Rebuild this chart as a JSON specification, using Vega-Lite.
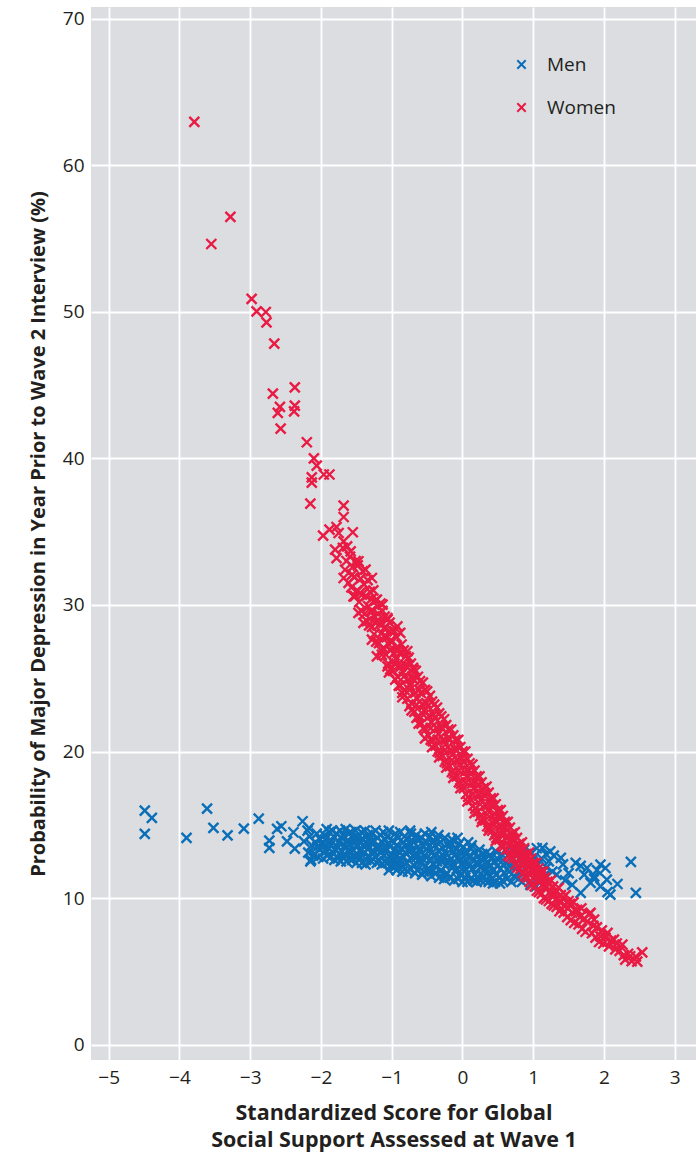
{
  "$schema": "https://vega.github.io/schema/vega-lite/v6.json",
  "width": 605,
  "height": 1053,
  "autosize": {"type": "none"},
  "padding": {"left": 91, "top": 7, "right": 4, "bottom": 93},
  "background": "white",
  "config": {
    "view": {"fill": "#dcdde0", "stroke": null},
    "font": "Open Sans",
    "axis": {
      "grid": true,
      "gridColor": "#ffffff",
      "gridWidth": 1.8,
      "domain": false,
      "ticks": false,
      "labelFontSize": 19,
      "labelColor": "#231f20",
      "titleColor": "#231f20",
      "titleFontWeight": "bold"
    },
    "legend": {
      "orient": "none",
      "legendX": 421,
      "legendY": 48,
      "title": null,
      "padding": 0,
      "labelFontSize": 19,
      "labelColor": "#231f20",
      "symbolType": "M-1,-1L1,1M-1,1L1,-1",
      "symbolSize": 70,
      "symbolStrokeWidth": 2,
      "labelOffset": 16,
      "rowPadding": 23
    }
  },
  "datasets": {
    "men": [
      {"x":-4.49,"y":15.97},{"x":-4.39,"y":15.47},{"x":-4.49,"y":14.38},{"x":-3.90,"y":14.10},{"x":-3.61,"y":16.10},{"x":-3.52,"y":14.79},{"x":-3.32,"y":14.28},{"x":-3.09,"y":14.74},{"x":-2.88,"y":15.42},{"x":-2.73,"y":13.92},{"x":-2.73,"y":13.42},{"x":-2.62,"y":14.72},{"x":-2.56,"y":14.90},{"x":-2.48,"y":13.87},{"x":-2.39,"y":14.49},{"x":-2.37,"y":13.37},{"x":-2.26,"y":15.24},{"x":-2.24,"y":13.87},{"x":-2.17,"y":14.78},{"x":-2.15,"y":12.50},
      {"x":-2.18,"y":13.1},{"x":-2.16,"y":14.2},{"x":-2.13,"y":13.6},{"x":-2.11,"y":12.9},{"x":-2.19,"y":14.6},{"x":-2.14,"y":12.6},
      {"x":-2.08,"y":13.8},{"x":-2.06,"y":14.4},{"x":-2.04,"y":12.8},{"x":-2.02,"y":13.3},{"x":-2.09,"y":13.0},{"x":-2.01,"y":14.0},{"x":-2.05,"y":13.5},
      {"x":-1.98,"y":13.7},{"x":-1.97,"y":12.7},{"x":-1.95,"y":14.3},{"x":-1.93,"y":13.2},{"x":-1.92,"y":14.7},{"x":-1.91,"y":12.9},{"x":-1.96,"y":13.5},{"x":-1.94,"y":14.0},
      {"x":-1.89,"y":13.4},{"x":-1.88,"y":14.5},{"x":-1.86,"y":12.8},{"x":-1.85,"y":13.9},{"x":-1.83,"y":13.1},{"x":-1.82,"y":14.2},{"x":-1.81,"y":12.6},{"x":-1.87,"y":13.6},{"x":-1.84,"y":14.6},
      {"x":-1.79,"y":13.3},{"x":-1.78,"y":14.4},{"x":-1.76,"y":12.7},{"x":-1.75,"y":13.8},{"x":-1.74,"y":13.0},{"x":-1.73,"y":14.6},{"x":-1.72,"y":12.5},{"x":-1.71,"y":14.1},{"x":-1.77,"y":13.5},{"x":-1.70,"y":13.2},
      {"x":-1.69,"y":14.3},{"x":-1.68,"y":12.8},{"x":-1.66,"y":13.6},{"x":-1.65,"y":14.7},{"x":-1.64,"y":12.5},{"x":-1.63,"y":13.9},{"x":-1.62,"y":13.2},{"x":-1.61,"y":14.4},{"x":-1.67,"y":13.0},{"x":-1.60,"y":12.7},
      {"x":-1.59,"y":13.7},{"x":-1.58,"y":14.5},{"x":-1.56,"y":12.6},{"x":-1.55,"y":13.3},{"x":-1.54,"y":14.1},{"x":-1.53,"y":12.9},{"x":-1.52,"y":13.8},{"x":-1.51,"y":14.6},{"x":-1.57,"y":13.1},{"x":-1.50,"y":12.4},
      {"x":-1.49,"y":13.5},{"x":-1.48,"y":14.2},{"x":-1.46,"y":12.7},{"x":-1.45,"y":13.9},{"x":-1.44,"y":13.2},{"x":-1.43,"y":14.5},{"x":-1.42,"y":12.4},{"x":-1.41,"y":13.6},{"x":-1.47,"y":12.9},{"x":-1.40,"y":14.0},
      {"x":-1.39,"y":13.1},{"x":-1.38,"y":14.6},{"x":-1.36,"y":12.6},{"x":-1.35,"y":13.7},{"x":-1.34,"y":14.3},{"x":-1.33,"y":12.9},{"x":-1.32,"y":13.4},{"x":-1.31,"y":14.0},{"x":-1.37,"y":12.3},{"x":-1.30,"y":13.8},
      {"x":-1.29,"y":12.5},{"x":-1.28,"y":14.4},{"x":-1.26,"y":13.2},{"x":-1.25,"y":13.9},{"x":-1.24,"y":12.8},{"x":-1.23,"y":14.6},{"x":-1.22,"y":13.5},{"x":-1.21,"y":12.4},{"x":-1.27,"y":13.0},{"x":-1.20,"y":14.1},
      {"x":-1.19,"y":13.6},{"x":-1.18,"y":12.6},{"x":-1.16,"y":14.3},{"x":-1.15,"y":13.1},{"x":-1.14,"y":12.3},{"x":-1.13,"y":13.8},{"x":-1.12,"y":14.5},{"x":-1.11,"y":12.9},{"x":-1.17,"y":13.4},{"x":-1.10,"y":12.5},
      {"x":-1.09,"y":14.0},{"x":-1.08,"y":13.3},{"x":-1.06,"y":12.4},{"x":-1.05,"y":13.7},{"x":-1.04,"y":14.6},{"x":-1.03,"y":12.8},{"x":-1.02,"y":13.5},{"x":-1.01,"y":12.2},{"x":-1.07,"y":14.2},{"x":-1.00,"y":13.0},{"x":-1.04,"y":11.9},
      {"x":-0.99,"y":13.9},{"x":-0.98,"y":12.5},{"x":-0.96,"y":13.3},{"x":-0.95,"y":14.4},{"x":-0.94,"y":12.2},{"x":-0.93,"y":13.6},{"x":-0.92,"y":12.9},{"x":-0.91,"y":14.1},{"x":-0.97,"y":12.7},{"x":-0.90,"y":13.2},{"x":-0.93,"y":11.9},
      {"x":-0.89,"y":12.6},{"x":-0.88,"y":14.5},{"x":-0.86,"y":13.4},{"x":-0.85,"y":12.1},{"x":-0.84,"y":13.8},{"x":-0.83,"y":12.8},{"x":-0.82,"y":14.2},{"x":-0.81,"y":13.1},{"x":-0.87,"y":12.3},{"x":-0.80,"y":13.6},{"x":-0.85,"y":11.8},
      {"x":-0.79,"y":12.4},{"x":-0.78,"y":14.0},{"x":-0.76,"y":13.2},{"x":-0.75,"y":12.0},{"x":-0.74,"y":13.7},{"x":-0.73,"y":14.4},{"x":-0.72,"y":12.7},{"x":-0.71,"y":13.3},{"x":-0.77,"y":11.8},{"x":-0.70,"y":12.9},{"x":-0.74,"y":14.6},
      {"x":-0.69,"y":13.8},{"x":-0.68,"y":12.2},{"x":-0.66,"y":13.0},{"x":-0.65,"y":14.3},{"x":-0.64,"y":11.9},{"x":-0.63,"y":13.5},{"x":-0.62,"y":12.6},{"x":-0.61,"y":14.0},{"x":-0.67,"y":11.7},{"x":-0.60,"y":13.2},{"x":-0.65,"y":12.8},
      {"x":-0.59,"y":12.4},{"x":-0.58,"y":14.1},{"x":-0.56,"y":13.6},{"x":-0.55,"y":11.8},{"x":-0.54,"y":12.9},{"x":-0.53,"y":14.4},{"x":-0.52,"y":12.2},{"x":-0.51,"y":13.3},{"x":-0.57,"y":11.6},{"x":-0.50,"y":13.8},{"x":-0.55,"y":12.6},
      {"x":-0.49,"y":12.0},{"x":-0.48,"y":13.5},{"x":-0.46,"y":14.2},{"x":-0.45,"y":12.7},{"x":-0.44,"y":11.5},{"x":-0.43,"y":13.1},{"x":-0.42,"y":13.9},{"x":-0.41,"y":12.3},{"x":-0.47,"y":11.8},{"x":-0.40,"y":12.9},{"x":-0.44,"y":14.5},
      {"x":-0.39,"y":13.6},{"x":-0.38,"y":11.7},{"x":-0.36,"y":12.5},{"x":-0.35,"y":14.0},{"x":-0.34,"y":13.2},{"x":-0.33,"y":11.4},{"x":-0.32,"y":12.8},{"x":-0.31,"y":13.8},{"x":-0.37,"y":12.1},{"x":-0.30,"y":11.9},{"x":-0.34,"y":14.3},
      {"x":-0.29,"y":12.6},{"x":-0.28,"y":13.4},{"x":-0.26,"y":11.3},{"x":-0.25,"y":14.1},{"x":-0.24,"y":12.2},{"x":-0.23,"y":13.0},{"x":-0.22,"y":11.7},{"x":-0.21,"y":13.7},{"x":-0.27,"y":12.9},{"x":-0.20,"y":12.4},{"x":-0.25,"y":11.5},
      {"x":-0.19,"y":13.5},{"x":-0.18,"y":11.4},{"x":-0.16,"y":12.7},{"x":-0.15,"y":14.0},{"x":-0.14,"y":12.1},{"x":-0.13,"y":13.2},{"x":-0.12,"y":11.2},{"x":-0.11,"y":12.9},{"x":-0.17,"y":13.8},{"x":-0.10,"y":11.8},{"x":-0.14,"y":12.4},
      {"x":-0.09,"y":13.3},{"x":-0.08,"y":12.0},{"x":-0.06,"y":11.3},{"x":-0.05,"y":13.7},{"x":-0.04,"y":12.6},{"x":-0.03,"y":11.6},{"x":-0.02,"y":13.1},{"x":-0.01,"y":12.3},{"x":-0.07,"y":14.1},{"x":0.00,"y":11.1},{"x":-0.05,"y":12.8},
      {"x":0.01,"y":13.5},{"x":0.02,"y":12.1},{"x":0.04,"y":11.4},{"x":0.05,"y":13.0},{"x":0.06,"y":12.5},{"x":0.07,"y":11.1},{"x":0.08,"y":13.8},{"x":0.09,"y":12.2},{"x":0.03,"y":11.8},{"x":0.10,"y":12.9},
      {"x":0.11,"y":11.3},{"x":0.12,"y":13.4},{"x":0.14,"y":12.0},{"x":0.15,"y":12.7},{"x":0.16,"y":11.2},{"x":0.17,"y":13.1},{"x":0.18,"y":11.6},{"x":0.19,"y":12.4},{"x":0.13,"y":13.6},{"x":0.20,"y":11.1},
      {"x":0.21,"y":12.8},{"x":0.22,"y":11.4},{"x":0.24,"y":13.3},{"x":0.25,"y":12.1},{"x":0.26,"y":11.2},{"x":0.27,"y":12.6},{"x":0.28,"y":13.0},{"x":0.29,"y":11.5},{"x":0.23,"y":12.3},{"x":0.30,"y":11.9},
      {"x":0.31,"y":12.7},{"x":0.32,"y":11.2},{"x":0.34,"y":13.1},{"x":0.35,"y":11.7},{"x":0.36,"y":12.4},{"x":0.37,"y":11.1},{"x":0.38,"y":12.9},{"x":0.39,"y":11.5},{"x":0.33,"y":12.0},{"x":0.40,"y":12.2},
      {"x":0.41,"y":11.3},{"x":0.42,"y":12.8},{"x":0.44,"y":11.9},{"x":0.45,"y":12.5},{"x":0.46,"y":11.1},{"x":0.47,"y":13.2},{"x":0.48,"y":11.6},{"x":0.49,"y":12.2},{"x":0.43,"y":11.0},
      {"x":0.51,"y":12.6},{"x":0.52,"y":11.4},{"x":0.54,"y":12.0},{"x":0.55,"y":13.0},{"x":0.56,"y":11.2},{"x":0.58,"y":12.3},{"x":0.59,"y":11.7},{"x":0.53,"y":11.0},
      {"x":0.61,"y":12.4},{"x":0.63,"y":11.3},{"x":0.64,"y":12.9},{"x":0.66,"y":11.8},{"x":0.67,"y":12.2},{"x":0.69,"y":11.1},{"x":0.62,"y":13.2},
      {"x":0.71,"y":12.6},{"x":0.73,"y":11.5},{"x":0.75,"y":12.0},{"x":0.77,"y":13.0},{"x":0.79,"y":11.3},{"x":0.74,"y":12.4},
      {"x":0.81,"y":12.7},{"x":0.83,"y":11.8},{"x":0.85,"y":12.3},{"x":0.87,"y":13.3},{"x":0.89,"y":11.4},{"x":0.84,"y":11.1},
      {"x":0.91,"y":12.9},{"x":0.93,"y":12.2},{"x":0.95,"y":11.6},{"x":0.97,"y":13.1},{"x":0.99,"y":12.5},{"x":0.96,"y":10.9},
      {"x":1.01,"y":12.8},{"x":1.03,"y":11.9},{"x":1.05,"y":13.4},{"x":1.07,"y":12.3},{"x":1.09,"y":11.2},{"x":1.04,"y":10.8},
      {"x":1.12,"y":12.7},{"x":1.15,"y":11.5},{"x":1.18,"y":13.0},{"x":1.13,"y":13.42},{"x":1.19,"y":12.1},
      {"x":1.22,"y":12.5},{"x":1.24,"y":13.19},{"x":1.27,"y":11.8},{"x":1.29,"y":12.9},
      {"x":1.39,"y":12.74},{"x":1.50,"y":11.7},{"x":1.60,"y":12.4},{"x":1.67,"y":10.35},{"x":1.67,"y":12.2},{"x":1.76,"y":12.05},{"x":1.81,"y":11.03},{"x":1.86,"y":11.48},{"x":1.86,"y":11.3},{"x":1.95,"y":12.28},{"x":1.95,"y":10.8},{"x":2.02,"y":12.05},{"x":2.04,"y":11.26},{"x":2.05,"y":10.4},{"x":2.09,"y":10.23},{"x":2.19,"y":10.96},{"x":2.38,"y":12.47},{"x":2.45,"y":10.35},{"x":1.45,"y":11.2},{"x":1.55,"y":10.9},{"x":1.33,"y":11.6},{"x":1.72,"y":11.6},{"x":1.42,"y":12.3},{"x":1.90,"y":11.9}
    ],
    "women": [
      {"x":-3.79,"y":62.96},{"x":-3.28,"y":56.48},{"x":-3.55,"y":54.63},{"x":-2.98,"y":50.88},{"x":-2.91,"y":50.03},{"x":-2.78,"y":49.99},{"x":-2.77,"y":49.28},{"x":-2.66,"y":47.83},{"x":-2.68,"y":44.42},{"x":-2.37,"y":44.85},{"x":-2.58,"y":43.51},{"x":-2.61,"y":43.10},{"x":-2.37,"y":43.60},{"x":-2.38,"y":43.21},{"x":-2.57,"y":42.03},{"x":-2.20,"y":41.10},
      {"x":-2.10,"y":40.0},{"x":-2.06,"y":39.5},{"x":-2.13,"y":38.7},{"x":-2.13,"y":38.35},{"x":-1.96,"y":38.9},{"x":-1.88,"y":38.9},
      {"x":-2.15,"y":36.91},{"x":-1.68,"y":36.78},{"x":-1.68,"y":36.0},{"x":-1.97,"y":34.73},{"x":-1.88,"y":35.14},{"x":-1.78,"y":35.32},{"x":-1.75,"y":34.91},{"x":-1.55,"y":34.96},{"x":-1.68,"y":34.34},{"x":-1.80,"y":33.77},{"x":-1.78,"y":33.2},{"x":-1.58,"y":33.66},{"x":-1.47,"y":32.98},{"x":-1.68,"y":31.84},{"x":-1.56,"y":32.07},{"x":-1.37,"y":32.41},{"x":-1.28,"y":31.84},{"x":-1.54,"y":30.59},{"x":-1.42,"y":30.7},{"x":-1.21,"y":30.36},{"x":-1.13,"y":30.02},{"x":-1.47,"y":29.46},{"x":-1.30,"y":29.57},{"x":-1.40,"y":28.77},{"x":-1.23,"y":28.77},{"x":-1.06,"y":29.0},{"x":-0.92,"y":28.54},{"x":-1.28,"y":27.63},{"x":-1.11,"y":27.86},{"x":-0.88,"y":28.09},{"x":-1.21,"y":26.49},{"x":-1.02,"y":26.95},{"x":-0.78,"y":26.84},{"x":-1.06,"y":25.81},{"x":-0.88,"y":25.81},{"x":-0.69,"y":25.59},
      {"x":-1.69,"y":33.9},{"x":-1.66,"y":32.4},{"x":-1.63,"y":34.0},{"x":-1.61,"y":31.5},{"x":-1.64,"y":33.0},
      {"x":-1.59,"y":33.3},{"x":-1.57,"y":31.2},{"x":-1.55,"y":32.6},{"x":-1.52,"y":30.6},{"x":-1.51,"y":33.0},{"x":-1.53,"y":31.9},
      {"x":-1.49,"y":31.0},{"x":-1.48,"y":32.7},{"x":-1.46,"y":30.2},{"x":-1.44,"y":31.8},{"x":-1.43,"y":29.6},{"x":-1.41,"y":32.3},{"x":-1.45,"y":30.8},
      {"x":-1.39,"y":31.4},{"x":-1.38,"y":29.4},{"x":-1.36,"y":30.6},{"x":-1.35,"y":28.9},{"x":-1.34,"y":31.7},{"x":-1.33,"y":29.9},{"x":-1.31,"y":30.9},{"x":-1.32,"y":28.6},
      {"x":-1.29,"y":30.4},{"x":-1.28,"y":28.5},{"x":-1.27,"y":29.6},{"x":-1.26,"y":31.0},{"x":-1.25,"y":28.0},{"x":-1.24,"y":29.2},{"x":-1.23,"y":30.3},{"x":-1.22,"y":27.5},{"x":-1.21,"y":28.9},{"x":-1.20,"y":29.9},
      {"x":-1.19,"y":29.4},{"x":-1.18,"y":27.4},{"x":-1.17,"y":28.7},{"x":-1.16,"y":30.1},{"x":-1.15,"y":26.9},{"x":-1.14,"y":28.1},{"x":-1.13,"y":29.6},{"x":-1.12,"y":27.0},{"x":-1.11,"y":28.4},{"x":-1.10,"y":29.2},{"x":-1.14,"y":26.6},
      {"x":-1.09,"y":28.5},{"x":-1.08,"y":26.6},{"x":-1.07,"y":27.8},{"x":-1.06,"y":29.1},{"x":-1.05,"y":26.0},{"x":-1.04,"y":27.3},{"x":-1.03,"y":28.8},{"x":-1.02,"y":25.6},{"x":-1.01,"y":27.6},{"x":-1.00,"y":28.3},{"x":-1.04,"y":25.4},{"x":-1.02,"y":26.9},
      {"x":-0.99,"y":27.5},{"x":-0.98,"y":25.5},{"x":-0.97,"y":26.7},{"x":-0.96,"y":28.2},{"x":-0.95,"y":24.9},{"x":-0.94,"y":26.3},{"x":-0.93,"y":27.8},{"x":-0.92,"y":25.1},{"x":-0.91,"y":26.9},{"x":-0.90,"y":24.5},{"x":-0.96,"y":26.0},{"x":-0.93,"y":27.1},
      {"x":-0.89,"y":26.7},{"x":-0.88,"y":24.5},{"x":-0.87,"y":25.8},{"x":-0.86,"y":27.3},{"x":-0.85,"y":24.0},{"x":-0.84,"y":25.4},{"x":-0.83,"y":26.9},{"x":-0.82,"y":24.2},{"x":-0.81,"y":25.9},{"x":-0.80,"y":26.5},{"x":-0.85,"y":23.7},{"x":-0.83,"y":25.1},
      {"x":-0.79,"y":25.8},{"x":-0.78,"y":23.6},{"x":-0.77,"y":24.9},{"x":-0.76,"y":26.4},{"x":-0.75,"y":23.1},{"x":-0.74,"y":24.5},{"x":-0.73,"y":26.0},{"x":-0.72,"y":23.3},{"x":-0.71,"y":25.0},{"x":-0.70,"y":25.7},{"x":-0.75,"y":24.2},{"x":-0.72,"y":22.8},
      {"x":-0.69,"y":24.9},{"x":-0.68,"y":22.7},{"x":-0.67,"y":24.0},{"x":-0.66,"y":25.5},{"x":-0.65,"y":22.3},{"x":-0.64,"y":23.6},{"x":-0.63,"y":25.1},{"x":-0.62,"y":22.4},{"x":-0.61,"y":24.2},{"x":-0.60,"y":24.8},{"x":-0.65,"y":23.2},{"x":-0.62,"y":21.9},
      {"x":-0.59,"y":24.0},{"x":-0.58,"y":21.9},{"x":-0.57,"y":23.2},{"x":-0.56,"y":24.7},{"x":-0.55,"y":21.6},{"x":-0.54,"y":22.8},{"x":-0.53,"y":24.2},{"x":-0.52,"y":21.5},{"x":-0.51,"y":23.3},{"x":-0.50,"y":24.1},{"x":-0.55,"y":22.5},{"x":-0.53,"y":20.9},
      {"x":-0.49,"y":23.1},{"x":-0.48,"y":21.1},{"x":-0.47,"y":22.4},{"x":-0.46,"y":23.8},{"x":-0.45,"y":20.8},{"x":-0.44,"y":22.0},{"x":-0.43,"y":23.4},{"x":-0.42,"y":20.7},{"x":-0.41,"y":22.5},{"x":-0.40,"y":23.2},{"x":-0.45,"y":21.6},{"x":-0.43,"y":20.3},
      {"x":-0.39,"y":22.3},{"x":-0.38,"y":20.4},{"x":-0.37,"y":21.6},{"x":-0.36,"y":23.0},{"x":-0.35,"y":20.0},{"x":-0.34,"y":21.2},{"x":-0.33,"y":22.6},{"x":-0.32,"y":19.9},{"x":-0.31,"y":21.7},{"x":-0.30,"y":22.4},{"x":-0.35,"y":20.8},{"x":-0.33,"y":19.6},
      {"x":-0.29,"y":21.6},{"x":-0.28,"y":19.7},{"x":-0.27,"y":20.8},{"x":-0.26,"y":22.2},{"x":-0.25,"y":19.3},{"x":-0.24,"y":20.5},{"x":-0.23,"y":21.8},{"x":-0.22,"y":19.2},{"x":-0.21,"y":20.9},{"x":-0.20,"y":21.5},{"x":-0.25,"y":20.1},{"x":-0.23,"y":18.9},
      {"x":-0.19,"y":20.9},{"x":-0.18,"y":19.0},{"x":-0.17,"y":20.1},{"x":-0.16,"y":21.5},{"x":-0.15,"y":18.6},{"x":-0.14,"y":19.8},{"x":-0.13,"y":21.1},{"x":-0.12,"y":18.5},{"x":-0.11,"y":20.2},{"x":-0.10,"y":20.8},{"x":-0.15,"y":19.4},{"x":-0.13,"y":18.2},
      {"x":-0.09,"y":20.1},{"x":-0.08,"y":18.3},{"x":-0.07,"y":19.4},{"x":-0.06,"y":20.8},{"x":-0.05,"y":17.9},{"x":-0.04,"y":19.1},{"x":-0.03,"y":20.3},{"x":-0.02,"y":17.8},{"x":-0.01,"y":19.5},{"x":0.00,"y":20.0},{"x":-0.05,"y":18.7},{"x":-0.03,"y":17.5},
      {"x":0.01,"y":19.3},{"x":0.02,"y":17.5},{"x":0.03,"y":18.6},{"x":0.04,"y":20.0},{"x":0.05,"y":17.1},{"x":0.06,"y":18.3},{"x":0.07,"y":19.5},{"x":0.08,"y":16.9},{"x":0.09,"y":18.7},{"x":0.10,"y":19.2},{"x":0.05,"y":17.9},{"x":0.07,"y":16.6},
      {"x":0.11,"y":18.5},{"x":0.12,"y":16.7},{"x":0.13,"y":17.8},{"x":0.14,"y":19.1},{"x":0.15,"y":16.3},{"x":0.16,"y":17.5},{"x":0.17,"y":18.7},{"x":0.18,"y":16.1},{"x":0.19,"y":17.9},{"x":0.20,"y":18.3},{"x":0.15,"y":17.1},{"x":0.17,"y":15.8},
      {"x":0.21,"y":17.7},{"x":0.22,"y":15.9},{"x":0.23,"y":17.0},{"x":0.24,"y":18.3},{"x":0.25,"y":15.6},{"x":0.26,"y":16.7},{"x":0.27,"y":17.9},{"x":0.28,"y":15.4},{"x":0.29,"y":17.1},{"x":0.30,"y":17.5},{"x":0.25,"y":16.4},{"x":0.27,"y":15.2},
      {"x":0.31,"y":17.0},{"x":0.32,"y":15.3},{"x":0.33,"y":16.3},{"x":0.34,"y":17.6},{"x":0.35,"y":14.9},{"x":0.36,"y":16.0},{"x":0.37,"y":17.2},{"x":0.38,"y":14.8},{"x":0.39,"y":16.4},{"x":0.40,"y":16.8},{"x":0.35,"y":15.7},{"x":0.37,"y":14.6},
      {"x":0.41,"y":16.3},{"x":0.42,"y":14.6},{"x":0.43,"y":15.6},{"x":0.44,"y":16.8},{"x":0.45,"y":14.3},{"x":0.46,"y":15.3},{"x":0.47,"y":16.4},{"x":0.48,"y":14.1},{"x":0.49,"y":15.6},{"x":0.50,"y":16.0},{"x":0.45,"y":15.0},{"x":0.47,"y":13.9},
      {"x":0.51,"y":15.5},{"x":0.52,"y":14.0},{"x":0.53,"y":14.9},{"x":0.54,"y":16.0},{"x":0.55,"y":13.6},{"x":0.56,"y":14.6},{"x":0.57,"y":15.6},{"x":0.58,"y":13.5},{"x":0.59,"y":14.8},{"x":0.60,"y":15.2},{"x":0.55,"y":14.3},
      {"x":0.61,"y":14.8},{"x":0.62,"y":13.3},{"x":0.63,"y":14.2},{"x":0.64,"y":15.2},{"x":0.65,"y":12.9},{"x":0.66,"y":13.9},{"x":0.67,"y":14.8},{"x":0.68,"y":12.8},{"x":0.69,"y":14.0},{"x":0.70,"y":14.4},{"x":0.65,"y":13.6},
      {"x":0.71,"y":14.1},{"x":0.72,"y":12.7},{"x":0.73,"y":13.5},{"x":0.74,"y":14.5},{"x":0.75,"y":12.3},{"x":0.76,"y":13.2},{"x":0.77,"y":14.1},{"x":0.78,"y":12.1},{"x":0.79,"y":13.3},{"x":0.80,"y":13.7},{"x":0.75,"y":12.9},
      {"x":0.81,"y":13.4},{"x":0.82,"y":12.0},{"x":0.83,"y":12.8},{"x":0.84,"y":13.8},{"x":0.85,"y":11.7},{"x":0.86,"y":12.5},{"x":0.87,"y":13.4},{"x":0.88,"y":11.5},{"x":0.89,"y":12.7},{"x":0.90,"y":13.0},{"x":0.85,"y":12.2},
      {"x":0.91,"y":12.8},{"x":0.92,"y":11.4},{"x":0.93,"y":12.2},{"x":0.94,"y":13.1},{"x":0.95,"y":11.1},{"x":0.96,"y":11.9},{"x":0.97,"y":12.7},{"x":0.98,"y":10.9},{"x":0.99,"y":12.0},{"x":1.00,"y":12.4},{"x":0.95,"y":11.6},
      {"x":1.01,"y":12.1},{"x":1.02,"y":10.8},{"x":1.03,"y":11.5},{"x":1.04,"y":12.4},{"x":1.05,"y":10.5},{"x":1.06,"y":11.2},{"x":1.07,"y":12.0},{"x":1.08,"y":10.4},{"x":1.09,"y":11.4},{"x":1.10,"y":11.8},
      {"x":1.11,"y":11.5},{"x":1.12,"y":10.3},{"x":1.13,"y":10.9},{"x":1.14,"y":11.8},{"x":1.15,"y":10.0},{"x":1.16,"y":10.7},{"x":1.17,"y":11.4},{"x":1.18,"y":9.9},{"x":1.19,"y":10.8},{"x":1.20,"y":11.1},
      {"x":1.21,"y":11.0},{"x":1.22,"y":9.8},{"x":1.24,"y":10.4},{"x":1.25,"y":11.2},{"x":1.26,"y":9.6},{"x":1.27,"y":10.1},{"x":1.28,"y":10.8},{"x":1.29,"y":9.5},{"x":1.30,"y":10.3},
      {"x":1.31,"y":10.5},{"x":1.33,"y":9.4},{"x":1.34,"y":10.0},{"x":1.36,"y":10.7},{"x":1.37,"y":9.1},{"x":1.38,"y":9.7},{"x":1.39,"y":10.2},{"x":1.40,"y":9.3},
      {"x":1.41,"y":10.0},{"x":1.43,"y":9.0},{"x":1.45,"y":9.5},{"x":1.46,"y":10.2},{"x":1.48,"y":8.7},{"x":1.49,"y":9.3},{"x":1.50,"y":9.8},
      {"x":1.52,"y":9.6},{"x":1.53,"y":8.5},{"x":1.55,"y":9.0},{"x":1.57,"y":9.7},{"x":1.58,"y":8.3},{"x":1.60,"y":9.1},
      {"x":1.62,"y":9.2},{"x":1.64,"y":8.2},{"x":1.66,"y":8.7},{"x":1.68,"y":9.3},{"x":1.69,"y":7.9},
      {"x":1.72,"y":8.6},{"x":1.74,"y":7.7},{"x":1.76,"y":8.4},{"x":1.79,"y":8.9},{"x":1.81,"y":8.99},{"x":1.86,"y":8.53},
      {"x":1.83,"y":7.6},{"x":1.85,"y":8.1},{"x":1.88,"y":7.3},{"x":1.90,"y":8.0},
      {"x":1.93,"y":7.0},{"x":1.95,"y":7.39},{"x":1.97,"y":7.8},{"x":1.99,"y":6.9},
      {"x":2.02,"y":7.3},{"x":2.05,"y":7.62},{"x":2.07,"y":6.7},{"x":2.10,"y":7.1},
      {"x":2.14,"y":7.16},{"x":2.16,"y":6.5},{"x":2.18,"y":6.9},
      {"x":2.22,"y":6.4},{"x":2.26,"y":6.82},{"x":2.28,"y":6.1},{"x":2.30,"y":5.8},
      {"x":2.34,"y":6.2},{"x":2.37,"y":6.03},{"x":2.39,"y":5.7},
      {"x":2.45,"y":6.0},{"x":2.47,"y":5.66},{"x":2.54,"y":6.3}
    ]
  },
  "layer": [
    {
      "data": {"name": "men"},
      "mark": {"type": "point", "shape": "M-1,-1L1,1M-1,1L1,-1", "filled": false, "opacity": 1, "strokeWidth": 2.4, "size": 100},
      "encoding": {
        "x": {
          "field": "x", "type": "quantitative",
          "scale": {"domain": [-5.25, 3.3], "nice": false, "zero": false},
          "axis": {
            "values": [-5, -4, -3, -2, -1, 0, 1, 2, 3],
            "format": "d",
            "labelPadding": 8,
            "title": ["Standardized Score for Global", "Social Support Assessed at Wave 1"],
            "titleFontSize": 21.5,
            "titlePadding": 15,
            "titleLineHeight": 27
          }
        },
        "y": {
          "field": "y", "type": "quantitative",
          "scale": {"domain": [-1.05, 70.8], "nice": false, "zero": false},
          "axis": {
            "values": [0, 10, 20, 30, 40, 50, 60, 70],
            "format": "d",
            "labelPadding": 7,
            "title": "Probability of Major Depression in Year Prior to Wave 2 Interview (%)",
            "titleFontSize": 20,
            "titlePadding": 14
          }
        },
        "color": {
          "datum": "Men",
          "type": "nominal",
          "scale": {"domain": ["Men", "Women"], "range": ["#0a6fb8", "#e91a43"]}
        }
      }
    },
    {
      "data": {"name": "women"},
      "mark": {"type": "point", "shape": "M-1,-1L1,1M-1,1L1,-1", "filled": false, "opacity": 1, "strokeWidth": 2.4, "size": 100},
      "encoding": {
        "x": {"field": "x", "type": "quantitative"},
        "y": {"field": "y", "type": "quantitative"},
        "color": {"datum": "Women", "type": "nominal"}
      }
    }
  ]
}
